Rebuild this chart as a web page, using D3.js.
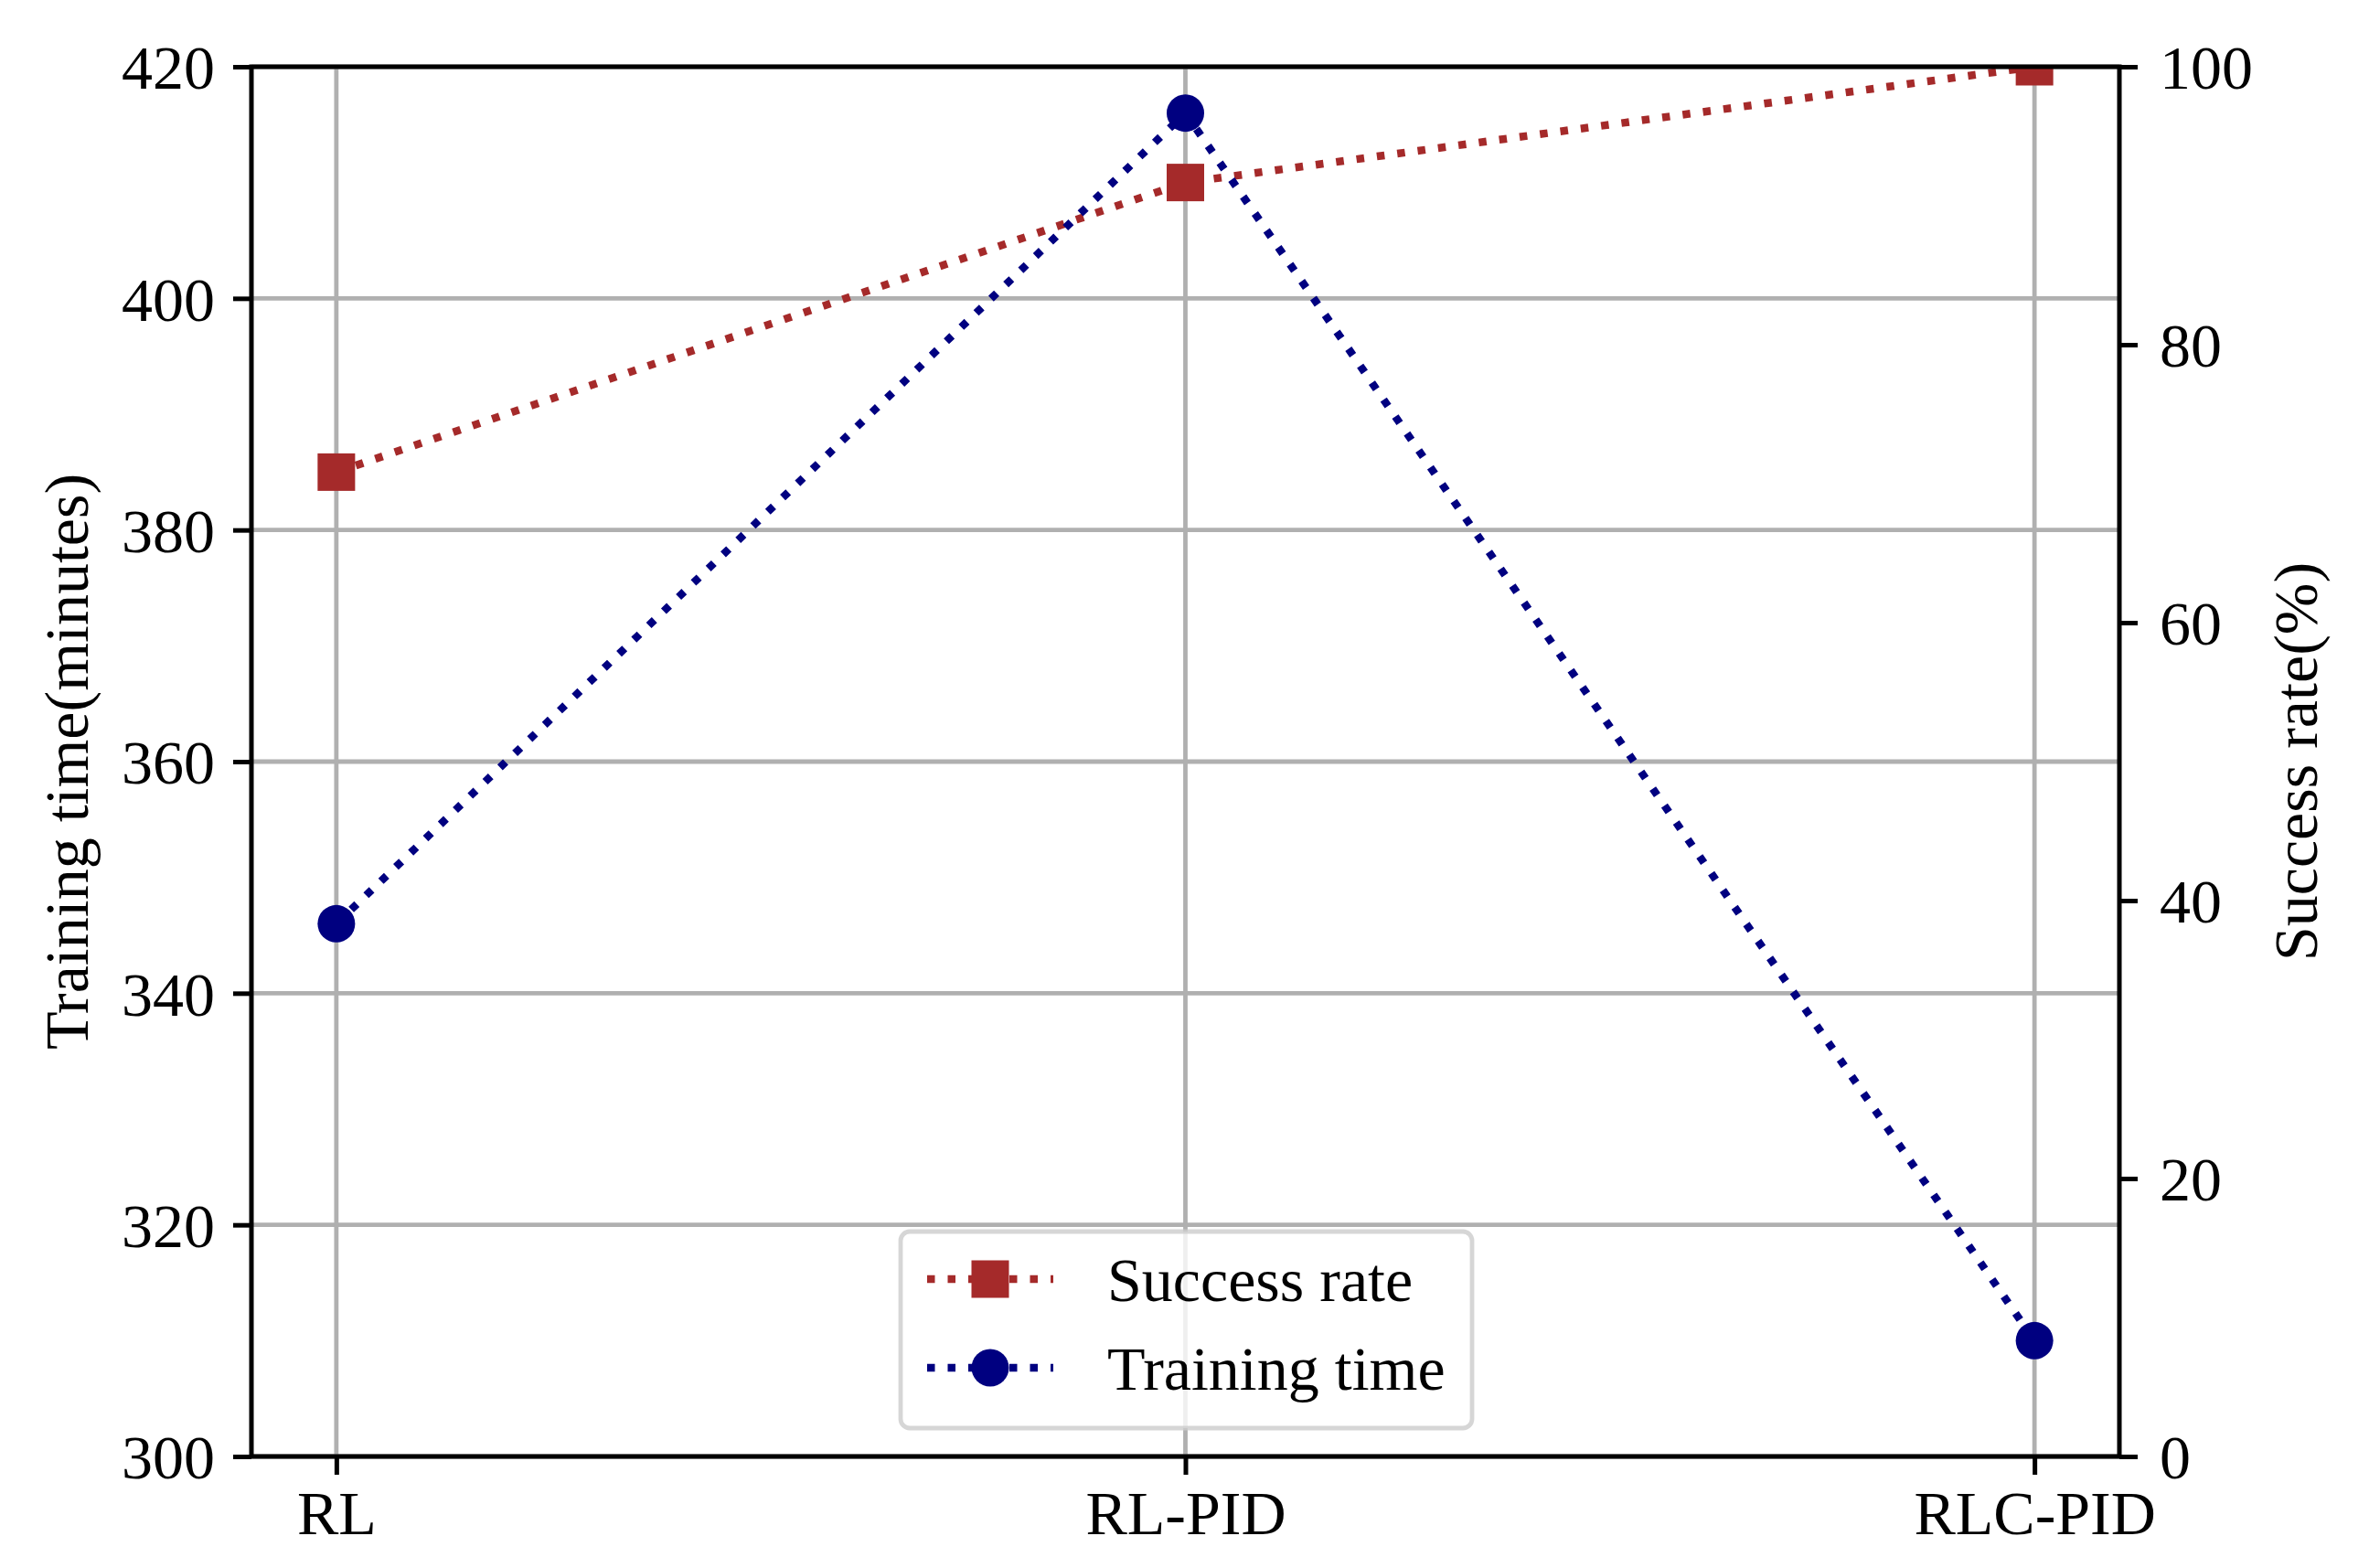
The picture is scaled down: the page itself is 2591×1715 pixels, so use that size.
<!DOCTYPE html>
<html lang="en">
<head>
    <meta charset="UTF-8">
    <script src="https://cdn.jsdelivr.net/npm/d3@7"></script>
    <title>Training time and success rate</title>
    <style>
        body { margin: 0; background: #fff; }
        svg { display: block; }
        text { font-family: "Liberation Serif", "Times New Roman", serif; fill: #000; }
    </style>
</head>
<body>
    <svg width="2591" height="1715"></svg>
    <script>
        const categories = ['RL', 'RL-PID', 'RLC-PID'];
        const successRate = [70.83, 91.67, 100];
        const trainingTime = [346, 416, 310];
        const leftTicks = [300, 320, 340, 360, 380, 400, 420];
        const rightTicks = [0, 20, 40, 60, 80, 100];

        const plotLeft = 275, plotRight = 2318, plotTop = 73, plotBottom = 1593;
        const fontSize = 68;
        const tickLen = 20;
        const red = '#a52a2a', blue = '#000080';
        const lw = 8.5, dots = '8.5,14';
        const markerSize = 41;

        const svg = d3.select('svg');

        const x = d3.scaleLinear().domain([-0.1, 2.1]).range([plotLeft, plotRight]);
        const yLeft = d3.scaleLinear().domain([300, 420]).range([plotBottom, plotTop]);
        const yRight = d3.scaleLinear().domain([0, 100]).range([plotBottom, plotTop]);

        svg.append('defs').append('clipPath').attr('id', 'plot')
            .append('rect').attr('x', plotLeft).attr('y', plotTop)
            .attr('width', plotRight - plotLeft).attr('height', plotBottom - plotTop);

        // grid
        const grid = svg.append('g').attr('stroke', '#b0b0b0').attr('stroke-width', 4.8);
        grid.selectAll('line.h').data(leftTicks).join('line').attr('class', 'h')
            .attr('x1', plotLeft).attr('x2', plotRight)
            .attr('y1', d => yLeft(d)).attr('y2', d => yLeft(d));
        grid.selectAll('line.v').data(d3.range(categories.length)).join('line').attr('class', 'v')
            .attr('y1', plotTop).attr('y2', plotBottom)
            .attr('x1', d => x(d)).attr('x2', d => x(d));

        // series
        const plot = svg.append('g').attr('clip-path', 'url(#plot)');
        const series = [
            { name: 'Success rate', values: successRate, scale: yRight, color: red, shape: 'square' },
            { name: 'Training time', values: trainingTime, scale: yLeft, color: blue, shape: 'circle' }
        ];

        function drawMarker(g, shape, cx, cy, color) {
            if (shape === 'square') {
                g.append('rect').attr('x', cx - markerSize / 2).attr('y', cy - markerSize / 2)
                    .attr('width', markerSize).attr('height', markerSize).attr('fill', color);
            } else {
                g.append('circle').attr('cx', cx).attr('cy', cy)
                    .attr('r', markerSize / 2).attr('fill', color);
            }
        }

        series.forEach(s => {
            const line = d3.line().x((d, i) => x(i)).y(d => s.scale(d));
            plot.append('path').attr('d', line(s.values))
                .attr('fill', 'none').attr('stroke', s.color)
                .attr('stroke-width', lw).attr('stroke-dasharray', dots);
            s.values.forEach((v, i) => drawMarker(plot, s.shape, x(i), s.scale(v), s.color));
        });

        // spines
        svg.append('rect').attr('x', plotLeft).attr('y', plotTop)
            .attr('width', plotRight - plotLeft).attr('height', plotBottom - plotTop)
            .attr('fill', 'none').attr('stroke', '#000').attr('stroke-width', 5);

        // axes
        function styleAxis(g) {
            g.select('.domain').remove();
            g.selectAll('.tick line').attr('stroke', '#000').attr('stroke-width', 5);
            g.selectAll('.tick text').attr('font-size', fontSize).attr('fill', '#000')
                .style('font-family', '"Liberation Serif", "Times New Roman", serif');
        }

        svg.append('g').attr('transform', `translate(0,${plotBottom})`)
            .call(d3.axisBottom(x).tickValues(d3.range(categories.length))
                .tickFormat(i => categories[i]).tickSize(tickLen).tickPadding(21))
            .call(styleAxis)
            .selectAll('.tick text').attr('dy', null).attr('y', 85);

        svg.append('g').attr('transform', `translate(${plotLeft},0)`)
            .call(d3.axisLeft(yLeft).tickValues(leftTicks).tickSize(tickLen).tickPadding(20))
            .call(styleAxis)
            .selectAll('.tick text').attr('dy', '0.35em');

        svg.append('g').attr('transform', `translate(${plotRight},0)`)
            .call(d3.axisRight(yRight).tickValues(rightTicks).tickSize(tickLen).tickPadding(24))
            .call(styleAxis)
            .selectAll('.tick text').attr('dy', '0.35em');

        // axis labels
        svg.append('text').attr('transform', `translate(96,${(plotTop + plotBottom) / 2}) rotate(-90)`)
            .attr('text-anchor', 'middle').attr('font-size', fontSize)
            .text('Training time(minutes)');
        svg.append('text').attr('transform', `translate(2534,${(plotTop + plotBottom) / 2}) rotate(-90)`)
            .attr('text-anchor', 'middle').attr('font-size', fontSize)
            .text('Success rate(%)');

        // legend
        const legend = svg.append('g');
        legend.append('rect').attr('x', 985).attr('y', 1347).attr('width', 625).attr('height', 215)
            .attr('rx', 10).attr('fill', '#fff').attr('fill-opacity', 0.8)
            .attr('stroke', '#cccccc').attr('stroke-opacity', 0.8).attr('stroke-width', 4.8);
        series.forEach((s, i) => {
            const cy = 1399 + i * 97;
            legend.append('line').attr('x1', 1014).attr('x2', 1152).attr('y1', cy).attr('y2', cy)
                .attr('stroke', s.color).attr('stroke-width', lw).attr('stroke-dasharray', dots);
            drawMarker(legend, s.shape, 1083, cy, s.color);
            legend.append('text').attr('x', 1211).attr('y', cy + 24)
                .attr('font-size', fontSize).text(s.name);
        });
    </script>
</body>
</html>
